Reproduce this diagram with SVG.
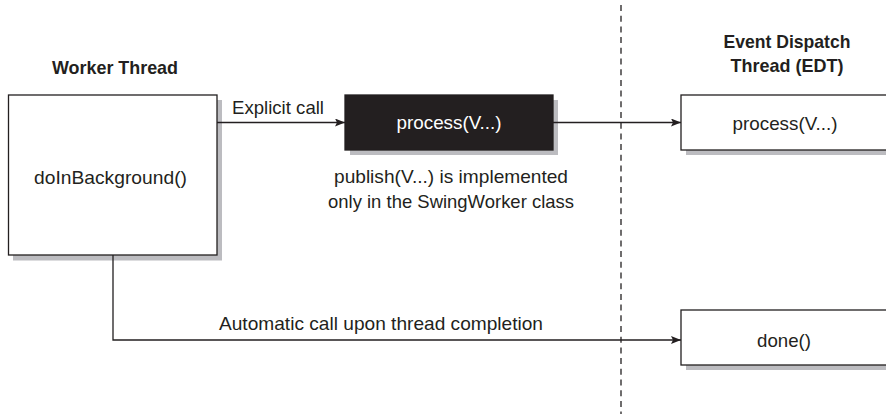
<svg xmlns="http://www.w3.org/2000/svg" width="886" height="414" viewBox="0 0 886 414">
<style>
  .box { fill: #ffffff; stroke: #231f20; stroke-width: 1.3; }
  .dark { fill: #231f20; stroke: #231f20; stroke-width: 1.3; }
  .shadow { fill: #bcbcc0; }
  .t { font-family: "Liberation Sans", Arial, sans-serif; font-size: 19px; fill: #231f20; text-anchor: middle; }
  .b { font-weight: bold; }
  .w { fill: #ffffff; }
  .conn { fill: none; stroke: #231f20; stroke-width: 1.3; }
  .dash { fill: none; stroke: #231f20; stroke-width: 1.3; stroke-dasharray: 6 4.7; }
</style>
<defs>
  <marker id="arr" viewBox="0 0 10 8" refX="10" refY="4" markerWidth="10" markerHeight="8" markerUnits="userSpaceOnUse" orient="auto">
    <path d="M0,0 L10,4 L0,8 L2,4 Z" fill="#231f20"/>
  </marker>
</defs>
<rect width="886" height="414" fill="#ffffff"/>

<line class="dash" x1="621" y1="5" x2="621" y2="414"/>

<text class="t b" x="115" y="74" textLength="126" lengthAdjust="spacingAndGlyphs">Worker Thread</text>
<g id="edt-title">
  <text class="t b" x="787" y="48" textLength="127" lengthAdjust="spacingAndGlyphs">Event Dispatch</text>
  <text class="t b" x="787" y="72" textLength="113" lengthAdjust="spacingAndGlyphs">Thread (EDT)</text>
</g>

<g id="worker">
  <rect class="shadow" x="13" y="100" width="209" height="160.5"/>
  <rect class="box" x="8.5" y="95" width="208.5" height="160"/>
  <text class="t" x="110.5" y="184" textLength="153" lengthAdjust="spacingAndGlyphs">doInBackground()</text>
</g>

<g id="publish">
  <rect class="shadow" x="350" y="100" width="208" height="55"/>
  <rect class="dark" x="345" y="95" width="208" height="55"/>
  <text class="t w" x="449" y="129" textLength="105" lengthAdjust="spacingAndGlyphs">process(V...)</text>
</g>

<g id="publish-note">
  <text class="t" x="451" y="183" textLength="234" lengthAdjust="spacingAndGlyphs">publish(V...) is implemented</text>
  <text class="t" x="451" y="208" textLength="246" lengthAdjust="spacingAndGlyphs">only in the SwingWorker class</text>
</g>

<g id="edt-process">
  <rect class="shadow" x="686" y="100" width="210" height="55"/>
  <rect class="box" x="681" y="95" width="215" height="55"/>
  <text class="t" x="785" y="130" textLength="105" lengthAdjust="spacingAndGlyphs">process(V...)</text>
</g>

<g id="edt-done">
  <rect class="shadow" x="686" y="315" width="210" height="55"/>
  <rect class="box" x="681" y="310" width="215" height="55"/>
  <text class="t" x="784" y="347" textLength="54" lengthAdjust="spacingAndGlyphs">done()</text>
</g>

<g id="connectors">
  <line class="conn" x1="217" y1="122.5" x2="345" y2="122.5" marker-end="url(#arr)"/>
  <text class="t" x="278" y="114" textLength="92" lengthAdjust="spacingAndGlyphs">Explicit call</text>
  <line class="conn" x1="553" y1="122.5" x2="681" y2="122.5" marker-end="url(#arr)"/>
  <polyline class="conn" points="113,255 113,340 681,340" marker-end="url(#arr)"/>
  <text class="t" x="381" y="330" textLength="324" lengthAdjust="spacingAndGlyphs">Automatic call upon thread completion</text>
</g>
</svg>
